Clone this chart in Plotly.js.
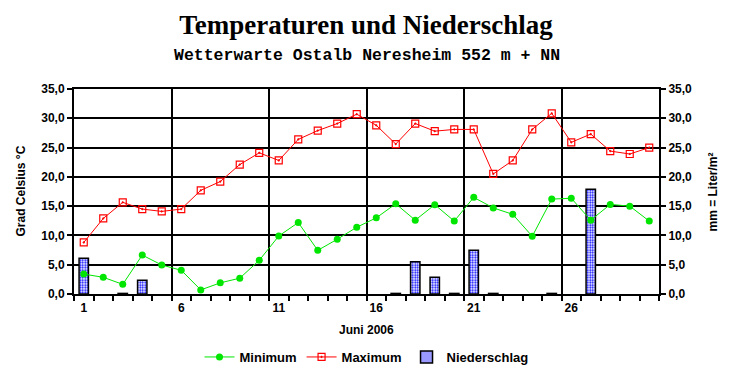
<!DOCTYPE html>
<html><head><meta charset="utf-8">
<script src="https://cdn.plot.ly/plotly-3.0.1.min.js"></script>
<style>html,body{margin:0;padding:0;background:#fff}#chart{width:732px;height:380px}</style>
</head><body><div id="chart"></div>
<script>
const days = [1,2,3,4,5,6,7,8,9,10,11,12,13,14,15,16,17,18,19,20,21,22,23,24,25,26,27,28,29,30];
const tmin = [3.4,2.85,1.65,6.65,4.95,4.05,0.7,1.9,2.7,5.75,9.9,12.2,7.45,9.35,11.4,13.0,15.4,12.6,15.25,12.45,16.5,14.7,13.6,9.85,16.2,16.35,12.6,15.3,15.0,12.45];
const tmax = [8.8,12.9,15.65,14.5,14.1,14.5,17.7,19.2,22.1,24.1,22.8,26.4,27.9,29.1,30.7,28.8,25.6,29.1,27.8,28.1,28.1,20.5,22.8,28.1,30.85,25.9,27.3,24.4,23.9,25.0];
const precip = [6.1,0,0.1,2.35,0,0,0,0,0,0,0,0,0,0,0,0,0.1,5.5,2.85,0.1,7.45,0.1,0,0,0.1,0,17.9,0,0,0];
const labelDays = [1,6,11,16,21,26];
const gridDays = [0.5,5.5,10.5,15.5,20.5,25.5,30.5];

const tickFont = {family:'Liberation Sans, Arial, sans-serif', size:12, color:'#000', weight:'bold'};
const xr = [0.5,30.5];

const data = [
  {x:days, y:tmin, type:'scatter', mode:'lines+markers', name:'Minimum', xaxis:'x2', yaxis:'y',
   line:{color:'#00e600', width:1}, marker:{color:'#00e600', size:7, symbol:'circle'}},
  {x:days, y:tmax, type:'scatter', mode:'lines+markers', name:'Maximum', xaxis:'x2', yaxis:'y',
   line:{color:'#ff0000', width:1}, marker:{color:'#ff0000', size:7, symbol:'square-open-dot', line:{width:1.2}}},
  {x:days, y:precip, type:'bar', name:'Niederschlag', xaxis:'x', yaxis:'y2', width:0.48,
   marker:{color:'#ffffff', line:{color:'#000', width:precip.map(v => v > 0 ? 1.5 : 0)},
     pattern:{shape:'.', fgcolor:'#0000ff', bgcolor:'#ffffff', size:2.5, solidity:0.45}}}
];

const layout = {
  width:732, height:380,
  margin:{l:74, r:73, t:89, b:86, autoexpand:false},
  paper_bgcolor:'#fff', plot_bgcolor:'#fff',
  separators:',.',
  showlegend:true,
  title:{text:'Temperaturen und Niederschlag', x:0.5, xanchor:'center', y:1-25/380, yanchor:'middle',
    font:{family:'Liberation Serif, Times New Roman, serif', size:27, color:'#000', weight:'bold'}},
  xaxis:{range:xr, tickmode:'array', tickvals:gridDays, showticklabels:false,
    ticks:'outside', ticklen:5, tickwidth:2, tickcolor:'#000',
    showgrid:true, gridcolor:'#000', gridwidth:2,
    showline:true, linecolor:'#000', linewidth:2, mirror:true, zeroline:false,
    minor:{tick0:0.5, dtick:1, ticks:'outside', ticklen:5, tickwidth:2, tickcolor:'#000', showgrid:false},
    anchor:'y2', fixedrange:true},
  xaxis2:{range:xr, overlaying:'x', side:'bottom', anchor:'y', tickmode:'array', tickvals:labelDays,
    ticktext:labelDays.map(String), ticks:'outside', ticklen:3, tickcolor:'rgba(0,0,0,0)',
    showgrid:false, showline:false, zeroline:false, tickfont:tickFont},
  yaxis2:{range:[0,35], side:'right', anchor:'x', tickmode:'linear', tick0:0, dtick:5, tickformat:'.1f',
    ticks:'outside', ticklen:5, tickwidth:2, tickcolor:'#000',
    showgrid:true, gridcolor:'#000', gridwidth:2,
    showline:true, linecolor:'#000', linewidth:2, zeroline:false, tickfont:tickFont},
  yaxis:{range:[0,35], side:'left', overlaying:'y2', anchor:'x2', tickmode:'linear', tick0:0, dtick:5, tickformat:'.1f',
    ticks:'outside', ticklen:5, tickwidth:2, tickcolor:'#000',
    showgrid:false, showline:true, linecolor:'#000', linewidth:2, zeroline:false, tickfont:tickFont},
  legend:{orientation:'h', x:0.5, xanchor:'center', y:(294-357)/205, yanchor:'middle',
    font:{family:'Liberation Sans, Arial, sans-serif', size:13, color:'#000', weight:'bold'},
    traceorder:'normal', itemwidth:30},
  annotations:[
    {text:'Wetterwarte Ostalb Neresheim 552 m + NN', xref:'paper', yref:'paper', x:0.5, y:(294-55)/205,
     xanchor:'center', yanchor:'middle', showarrow:false,
     font:{family:'Liberation Mono, Courier New, monospace', size:16.5, color:'#000', weight:'bold'}},
    {text:'Juni 2006', xref:'paper', yref:'paper', x:0.5, y:(294-330)/205, xanchor:'center', yanchor:'middle',
     showarrow:false, font:tickFont},
    {text:'Grad Celsius °C', xref:'paper', yref:'paper', x:(20-74)/585, y:0.5, xanchor:'center', yanchor:'middle',
     textangle:-90, showarrow:false, font:tickFont},
    {text:'mm = Liter/m²', xref:'paper', yref:'paper', x:(712-74)/585, y:0.5, xanchor:'center', yanchor:'middle',
     textangle:-90, showarrow:false, font:tickFont}
  ]
};
Plotly.newPlot('chart', data, layout, {staticPlot:true, displayModeBar:false});
</script></body></html>
